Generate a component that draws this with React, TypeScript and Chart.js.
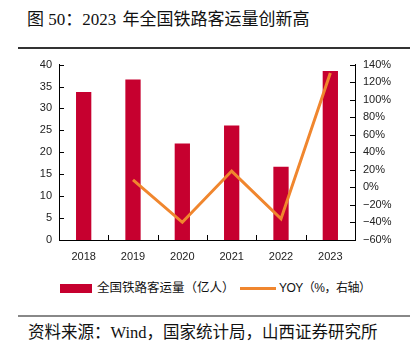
import React, { useEffect, useRef } from "react";
import { Chart, registerables } from "chart.js";

Chart.register(...registerables);

const years = ["2018", "2019", "2020", "2021", "2022", "2023"];
const passengers = [33.75, 36.6, 22.03, 26.12, 16.73, 38.55];
const yoy = [null, 8.5, -39.8, 18.6, -35.9, 130.4];

const barColor = "#C6002F";
const lineColor = "#F0862E";

const innerTicks = {
  id: "innerTicks",
  afterDraw(chart: any) {
    const ctx = chart.ctx;
    const { left, right, top, bottom } = chart.chartArea;
    ctx.save();
    ctx.strokeStyle = "#000";
    ctx.lineWidth = 1;
    ctx.beginPath();
    const y = chart.scales.y;
    y.ticks.forEach((_t: any, i: number) => {
      const p = Math.round(y.getPixelForTick(i)) + 0.5;
      ctx.moveTo(left, p);
      ctx.lineTo(left + 5, p);
    });
    const y1 = chart.scales.y1;
    y1.ticks.forEach((_t: any, i: number) => {
      const p = Math.round(y1.getPixelForTick(i)) + 0.5;
      ctx.moveTo(right, p);
      ctx.lineTo(right - 5, p);
    });
    const n = years.length;
    for (let i = 1; i < n; i++) {
      const xp = Math.round(left + ((right - left) * i) / n) + 0.5;
      ctx.moveTo(xp, bottom);
      ctx.lineTo(xp, bottom - 5);
    }
    ctx.stroke();
    ctx.restore();
  },
};

export default function App() {
  const ref = useRef<HTMLCanvasElement>(null);
  useEffect(() => {
    if (!ref.current) return;
    const tickFont = { family: "'Liberation Sans', Arial, sans-serif", size: 11 };
    const chart = new Chart(ref.current, {
      type: "bar",
      data: {
        labels: years,
        datasets: [
          {
            type: "line",
            label: "YOY（%，右轴）",
            data: yoy as any,
            yAxisID: "y1",
            borderColor: lineColor,
            backgroundColor: lineColor,
            borderWidth: 3,
            pointRadius: 0,
            tension: 0,
            order: 0,
          } as any,
          {
            type: "bar",
            label: "全国铁路客运量（亿人）",
            data: passengers,
            yAxisID: "y",
            backgroundColor: barColor,
            categoryPercentage: 1,
            barPercentage: 0.31,
            order: 1,
          },
        ],
      },
      options: {
        responsive: false,
        animation: false,
        layout: { padding: { top: 12, left: 0, right: 0, bottom: 0 } },
        plugins: { legend: { display: false }, tooltip: { enabled: false } },
        scales: {
          x: {
            offset: true,
            grid: { display: false, drawTicks: false },
            border: { display: true, color: "#000", width: 1 },
            ticks: { font: tickFont, color: "#222", padding: 10, maxRotation: 0 },
            afterFit: (s: any) => { s.height = 35; },
          },
          y: {
            position: "left",
            min: 0,
            max: 40,
            grid: { display: false, drawTicks: false },
            border: { display: true, color: "#000", width: 1 },
            ticks: { stepSize: 5, font: tickFont, color: "#222", padding: 7 },
            afterFit: (s: any) => { s.width = 59; },
          },
          y1: {
            position: "right",
            min: -60,
            max: 140,
            grid: { display: false, drawTicks: false },
            border: { display: true, color: "#000", width: 1 },
            ticks: {
              stepSize: 20,
              font: tickFont,
              color: "#222",
              padding: 8,
              callback: (v: any) => (v < 0 ? "\u2212" + Math.abs(v) : v) + "%",
            },
            afterFit: (s: any) => { s.width = 61; },
          },
        },
      },
      plugins: [innerTicks],
    });
    return () => chart.destroy();
  }, []);

  const serif = "'Liberation Serif', 'Noto Sans CJK SC', serif";
  const sans = "'Liberation Sans', 'Noto Sans CJK SC', sans-serif";
  return (
    <div style={{ position: "fixed", left: 0, top: 0, width: 416, height: 351, background: "#fff", overflow: "hidden" }}>
      <div style={{ position: "absolute", left: 27, top: 9, fontFamily: serif, fontSize: 17, lineHeight: "22px", color: "#111", whiteSpace: "nowrap" }}>
        图 50：2023 <span style={{ marginLeft: 2 }}>年全国铁路客运量创新高</span>
      </div>
      <div style={{ position: "absolute", left: 18, top: 47, width: 392, height: 1.5, background: "#333" }} />
      <canvas ref={ref} width={416} height={225} style={{ position: "absolute", left: 0, top: 50 }} />
      <div style={{ position: "absolute", left: 60, top: 284, width: 32, height: 9, background: barColor }} />
      <div style={{ position: "absolute", left: 97, top: 279, fontFamily: sans, fontSize: 12.5, lineHeight: "18px", color: "#111", whiteSpace: "nowrap" }}>
        全国铁路客运量（亿人）
      </div>
      <div style={{ position: "absolute", left: 240, top: 287, width: 36, height: 3, background: lineColor }} />
      <div style={{ position: "absolute", left: 279, top: 279, fontFamily: sans, fontSize: 12, letterSpacing: "-0.5px", lineHeight: "18px", color: "#111", whiteSpace: "nowrap" }}>
        YOY（%，右轴）
      </div>
      <div style={{ position: "absolute", left: 18, top: 315, width: 392, height: 1.5, background: "#888" }} />
      <div style={{ position: "absolute", left: 28, top: 322, fontFamily: serif, fontSize: 16.5, lineHeight: "22px", color: "#111", whiteSpace: "nowrap" }}>
        资料来源：Wind，国家统计局，山西证券研究所
      </div>
    </div>
  );
}
